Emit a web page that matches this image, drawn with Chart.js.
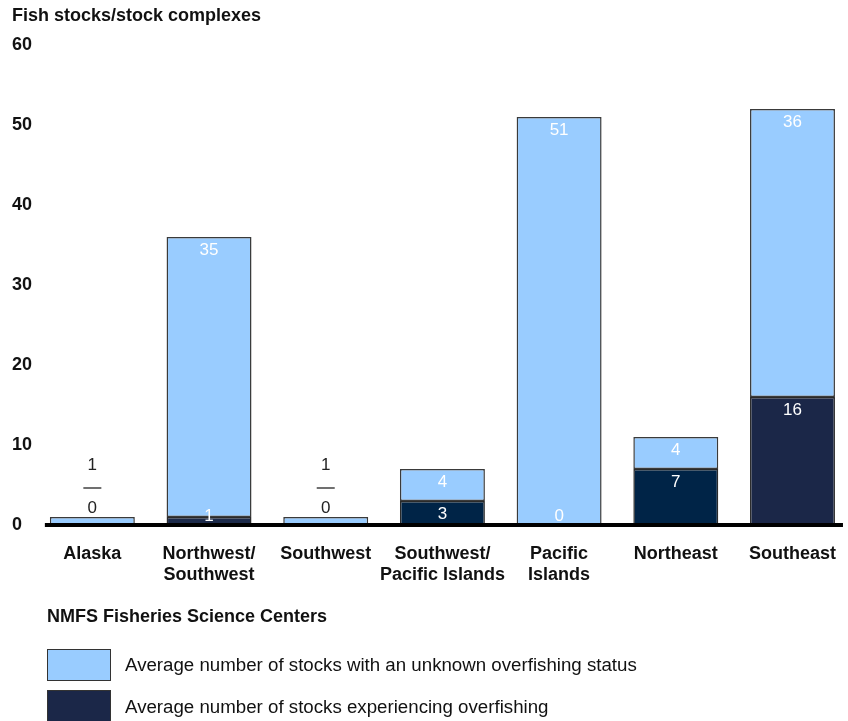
<!DOCTYPE html>
<html>
<head>
<meta charset="utf-8">
<script src="https://cdn.jsdelivr.net/npm/chart.js@4.4.0/dist/chart.umd.min.js"></script>
<style>
  html, body { margin: 0; padding: 0; background: #fff; overflow: hidden; width: 848px; height: 721px; }
  body { position: relative; font-family: "Liberation Sans", Arial, sans-serif; color: #111; }
  #c { position: absolute; left: 0; top: 0; }
  .t { position: absolute; white-space: nowrap; line-height: 1; }
  #ytitle { left: 12px; top: 6px; font-weight: bold; font-size: 18px; }
  #ltitle { left: 47px; top: 607px; font-weight: bold; font-size: 18px; }
  .box { position: absolute; left: 47px; width: 62px; border: 1.5px solid #333; }
  .ltext { left: 125px; font-size: 18.7px; }
</style>
</head>
<body>
<canvas id="c" width="854" height="721" style="width:854px;height:721px;"></canvas>
<div class="t" id="ytitle">Fish stocks/stock complexes</div>
<div class="t" id="ltitle">NMFS Fisheries Science Centers</div>
<div class="box" style="top:649px;height:30px;background:#99ccff;"></div>
<div class="t ltext" style="top:656px;">Average number of stocks with an unknown overfishing status</div>
<div class="box" style="top:690px;height:30px;background:#1b2748;"></div>
<div class="t ltext" style="top:698px;">Average number of stocks experiencing overfishing</div>
<script>
const categories = [["Alaska"], ["Northwest/", "Southwest"], ["Southwest"], ["Southwest/", "Pacific Islands"], ["Pacific", "Islands"], ["Northeast"], ["Southeast"]];
const overfishing = [0, 1, 0, 3, 0, 7, 16];
const unknownStatus = [1, 35, 1, 4, 51, 4, 36];
const yTicks = [0, 10, 20, 30, 40, 50, 60];

const darkColors = ["#1b2748", "#1c2a4a", "#1b2748", "#002447", "#1b2748", "#002447", "#1b2748"];
const lightColor = "#99ccff";

const labelPlugin = {
  id: "labels",
  afterDatasetsDraw(chart) {
    const ctx = chart.ctx;
    const yScale = chart.scales.y;
    const base = yScale.getPixelForValue(0);
    const m0 = chart.getDatasetMeta(0);
    const m1 = chart.getDatasetMeta(1);
    const first = m0.data[0], last = m0.data[m0.data.length - 1];
    ctx.save();
    ctx.strokeStyle = "#000";
    ctx.lineWidth = 4;
    ctx.beginPath();
    ctx.moveTo(first.x - first.width / 2 - 5, base);
    ctx.lineTo(last.x + last.width / 2 + 8, base);
    ctx.stroke();

    ctx.font = "17px 'Liberation Sans', Arial, sans-serif";
    ctx.textAlign = "center";
    ctx.textBaseline = "middle";
    for (let i = 0; i < categories.length; i++) {
      const b0 = m0.data[i], b1 = m1.data[i];
      const x = b0.x;
      if (overfishing[i] + unknownStatus[i] < 2) {
        ctx.fillStyle = "#222";
        ctx.fillText(String(unknownStatus[i]), x, base - 60);
        ctx.fillText(String(overfishing[i]), x, base - 17);
        ctx.strokeStyle = "#222";
        ctx.lineWidth = 1.3;
        ctx.beginPath();
        ctx.moveTo(x - 9, base - 37);
        ctx.lineTo(x + 9, base - 37);
        ctx.stroke();
      } else {
        ctx.fillStyle = "#fff";
        ctx.fillText(String(overfishing[i]), x, Math.min(b0.y + 13, base - 9));
        ctx.fillText(String(unknownStatus[i]), x, Math.min(b1.y + 13, base - 9));
      }
    }
    ctx.restore();
  }
};

new Chart(document.getElementById("c"), {
  type: "bar",
  data: {
    labels: categories,
    datasets: [
      { label: "Average number of stocks experiencing overfishing", data: overfishing, backgroundColor: darkColors, borderColor: "#2a2a2a", borderWidth: 1.5, borderSkipped: false, barPercentage: 0.728, categoryPercentage: 1 },
      { label: "Average number of stocks with an unknown overfishing status", data: unknownStatus, backgroundColor: lightColor, borderColor: "#3a3a3a", borderWidth: 1.5, borderSkipped: false, barPercentage: 0.728, categoryPercentage: 1 }
    ]
  },
  options: {
    responsive: false,
    devicePixelRatio: 1,
    animation: false,
    layout: { padding: { top: 45, left: 12, right: 0, bottom: 0 } },
    plugins: { legend: { display: false }, tooltip: { enabled: false }, title: { display: false } },
    scales: {
      x: {
        stacked: true,
        grid: { display: false, drawTicks: false },
        border: { display: false },
        ticks: { color: "#111", font: { family: "'Liberation Sans', Arial, sans-serif", size: 18, weight: "bold", lineHeight: 1.2 }, padding: 18, maxRotation: 0, autoSkip: false },
        afterFit(scale) { scale.height = 196; }
      },
      y: {
        stacked: true,
        min: 0, max: 60,
        grid: { display: false, drawTicks: false },
        border: { display: false },
        afterBuildTicks(scale) { scale.ticks = yTicks.map(v => ({ value: v })); },
        ticks: { color: "#111", crossAlign: "far", font: { family: "'Liberation Sans', Arial, sans-serif", size: 18, weight: "bold" }, padding: 0 },
        afterFit(scale) { scale.width = 22; }
      }
    }
  },
  plugins: [labelPlugin]
});
</script>
</body>
</html>
